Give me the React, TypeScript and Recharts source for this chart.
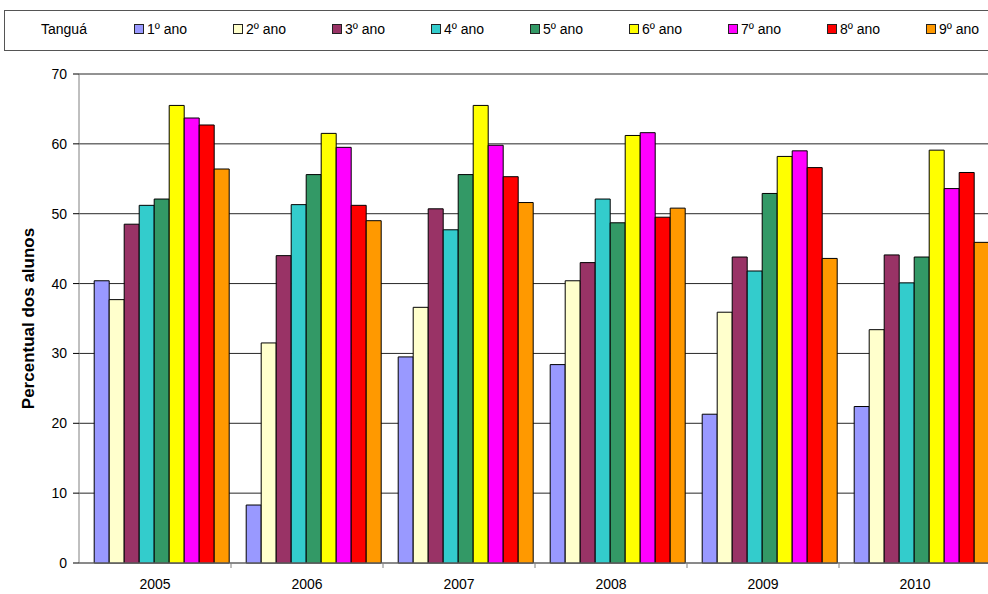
import { BarChart, Bar, XAxis, YAxis, CartesianGrid, Rectangle } from 'recharts';

const years = ['2005', '2006', '2007', '2008', '2009', '2010'];
const seriesNames = ['1º ano', '2º ano', '3º ano', '4º ano', '5º ano', '6º ano', '7º ano', '8º ano', '9º ano'];
const seriesColors = ['#9999FF', '#FFFFCC', '#993366', '#33CCCC', '#339966', '#FFFF00', '#FF00FF', '#FF0000', '#FF9900'];

const ano1 = [40.4, 8.3, 29.5, 28.4, 21.3, 22.4];
const ano2 = [37.7, 31.5, 36.6, 40.4, 35.9, 33.4];
const ano3 = [48.5, 44.0, 50.7, 43.0, 43.8, 44.1];
const ano4 = [51.2, 51.3, 47.7, 52.1, 41.8, 40.1];
const ano5 = [52.1, 55.6, 55.6, 48.7, 52.9, 43.8];
const ano6 = [65.5, 61.5, 65.5, 61.2, 58.2, 59.1];
const ano7 = [63.7, 59.5, 59.8, 61.6, 59.0, 53.6];
const ano8 = [62.7, 51.2, 55.3, 49.5, 56.6, 55.9];
const ano9 = [56.4, 49.0, 51.6, 50.8, 43.6, 45.9];

const yTicks = [0, 10, 20, 30, 40, 50, 60, 70];

const allSeries = [ano1, ano2, ano3, ano4, ano5, ano6, ano7, ano8, ano9];

const data = years.map((year, i) => {
  const row: Record<string, string | number> = { year };
  seriesNames.forEach((name, s) => {
    row[name] = allSeries[s][i];
  });
  return row;
});

const font = 'Arial, "Liberation Sans", sans-serif';

// Excel draws the category gap on the left of each group only
const BAND = 152;
const SHIFT = BAND * 0.05;

const ShiftedBar = (props: any) => <Rectangle {...props} x={props.x + SHIFT} />;

const YearTick = (props: any) => {
  const { x, y, payload } = props;
  return (
    <g>
      <line x1={x + BAND / 2} y1={y - 8} x2={x + BAND / 2} y2={y - 3} stroke="#808080" />
      <text x={x} y={y + 18} textAnchor="middle" fontSize={14} fill="#000" fontFamily={font}>
        {payload.value}
      </text>
    </g>
  );
};

export default function App() {
  return (
    <div style={{ position: 'absolute', left: 0, top: 0, width: 988, height: 594, overflow: 'hidden', background: '#fff', fontFamily: font }}>
      <div
        style={{
          position: 'absolute',
          left: 4,
          top: 10,
          width: 1000,
          height: 41,
          border: '1px solid #555',
          boxSizing: 'border-box',
        }}
      >
        <span style={{ position: 'absolute', left: 36, top: 10, fontSize: 14, color: '#000' }}>Tanguá</span>
        {seriesNames.map((name, i) => (
          <span key={name} style={{ position: 'absolute', left: 129 + i * 99, top: 10, fontSize: 14, color: '#000', whiteSpace: 'nowrap' }}>
            <span
              style={{
                display: 'inline-block',
                width: 8,
                height: 8,
                background: seriesColors[i],
                border: '1px solid #222',
                marginRight: 3,
                verticalAlign: 'middle',
                position: 'relative',
                top: -1,
              }}
            />
            {name}
          </span>
        ))}
      </div>
      <BarChart
        width={991}
        height={594}
        data={data}
        margin={{ top: 74, right: 0, bottom: 0, left: 0 }}
        barCategoryGap="5%"
        barGap={0}
      >
        <CartesianGrid vertical={false} stroke="#000" strokeOpacity={0.85} />
        <XAxis
          dataKey="year"
          height={31}
          tickLine={false}
          axisLine={{ stroke: '#808080' }}
          tick={<YearTick />}
          interval={0}
        />
        <YAxis
          width={79}
          domain={[0, 70]}
          ticks={yTicks}
          interval={0}
          tickSize={6}
          tickLine={{ stroke: '#000' }}
          axisLine={{ stroke: '#808080' }}
          tick={{ fontSize: 14, fill: '#000', fontFamily: font }}
          tickMargin={6}
          label={{
            value: 'Percentual dos alunos',
            angle: -90,
            position: 'insideLeft',
            offset: 28,
            style: { fontSize: 17, fontWeight: 'bold', fill: '#000', fontFamily: font, textAnchor: 'middle' },
          }}
        />
        {seriesNames.map((name, i) => (
          <Bar
            key={name}
            dataKey={name}
            fill={seriesColors[i]}
            stroke="#000"
            strokeWidth={1}
            shape={<ShiftedBar />}
            isAnimationActive={false}
          />
        ))}
      </BarChart>
    </div>
  );
}
